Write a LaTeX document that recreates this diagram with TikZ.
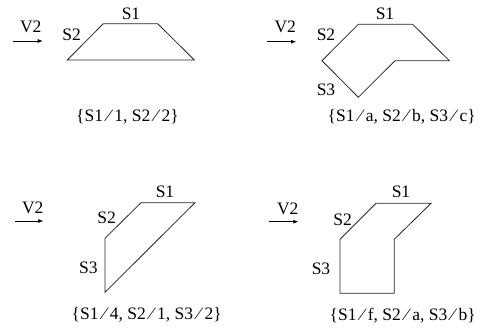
\documentclass[tikz,border=0pt]{standalone}
\usepackage{fontspec}
\setmainfont{Liberation Serif}
\usetikzlibrary{arrows.meta}
\newcommand{\fsl}{\kern0.24em⁄\kern0.24em}
\begin{document}
\begin{tikzpicture}[x=1pt,y=-1pt,
  lbl/.style={inner sep=0pt,anchor=base,font=\fontsize{17.5}{19}\selectfont},
  outline/.style={draw=black!85,line width=0.8pt,line join=miter},
  vec/.style={draw,line width=0.6pt,-{Latex[length=5pt,width=4pt]}}]
\useasboundingbox (0,0) rectangle (482,333);
% ---------- panel 1
\coordinate (a1) at (103.3,23.7);
\coordinate (a2) at (157.7,23.7);
\coordinate (a3) at (194.3,60);
\coordinate (a4) at (67.3,60);
\draw[outline] (a1) -- (a2) -- (a3) -- (a4) -- cycle;
\node[lbl] (a1s1) at (131,19) {S1};
\node[lbl] (a1s2) at (71.7,40) {S2};
\node[lbl] (a1v) at (30.7,32.5) {V2};
\coordinate (a1p) at (12.7,41);
\coordinate (a1q) at (42.7,41);
\draw[vec] (a1p) -- (a1q);
\node[lbl] (a1c) at (127.5,121) {\{S1\fsl1, S2\fsl2\}};
% ---------- panel 2
\coordinate (b1) at (358.3,24.3);
\coordinate (b2) at (412.7,24.3);
\coordinate (b3) at (449.3,60.7);
\coordinate (b4) at (395,60.7);
\coordinate (b5) at (358.3,97.3);
\coordinate (b6) at (322,60.7);
\draw[outline] (b1) -- (b2) -- (b3) -- (b4) -- (b5) -- (b6) -- cycle;
\node[lbl] (b1s1) at (385,19) {S1};
\node[lbl] (b1s2) at (326,40.7) {S2};
\node[lbl] (b1s3) at (326,95) {S3};
\node[lbl] (b1v) at (285.3,32.5) {V2};
\coordinate (b1p) at (266.7,41.7);
\coordinate (b1q) at (296,41.7);
\draw[vec] (b1p) -- (b1q);
\node[lbl] (b1c) at (401.7,121) {\{S1\fsl a, S2\fsl b, S3\fsl c\}};
% ---------- panel 3
\coordinate (c1) at (141,202.7);
\coordinate (c2) at (195,202.7);
\coordinate (c3) at (105,292.3);
\coordinate (c4) at (105,238.3);
\draw[outline] (c1) -- (c2) -- (c3) -- (c4) -- cycle;
\node[lbl] (c1s1) at (165,197.5) {S1};
\node[lbl] (c1s2) at (106.7,223) {S2};
\node[lbl] (c1s3) at (88.3,273.5) {S3};
\node[lbl] (c1v) at (32.7,213.5) {V2};
\coordinate (c1p) at (15,221);
\coordinate (c1q) at (43.3,221);
\draw[vec] (c1p) -- (c1q);
\node[lbl] (c1c) at (146.7,319.3) {\{S1\fsl4, S2\fsl1, S3\fsl2\}};
% ---------- panel 4
\coordinate (d1) at (376,203.3);
\coordinate (d2) at (431,203.3);
\coordinate (d3) at (394.3,239.3);
\coordinate (d4) at (394.3,293.3);
\coordinate (d5) at (340,293.3);
\coordinate (d6) at (340,239.3);
\draw[outline] (d1) -- (d2) -- (d3) -- (d4) -- (d5) -- (d6) -- cycle;
\node[lbl] (d1s1) at (401,197) {S1};
\node[lbl] (d1s2) at (342.7,225.7) {S2};
\node[lbl] (d1s3) at (321,274) {S3};
\node[lbl] (d1v) at (287.7,214) {V2};
\coordinate (d1p) at (268.7,221.7);
\coordinate (d1q) at (298.3,221.7);
\draw[vec] (d1p) -- (d1q);
\node[lbl] (d1c) at (402.7,320) {\{S1\fsl f, S2\fsl a, S3\fsl b\}};
\end{tikzpicture}
\end{document}
